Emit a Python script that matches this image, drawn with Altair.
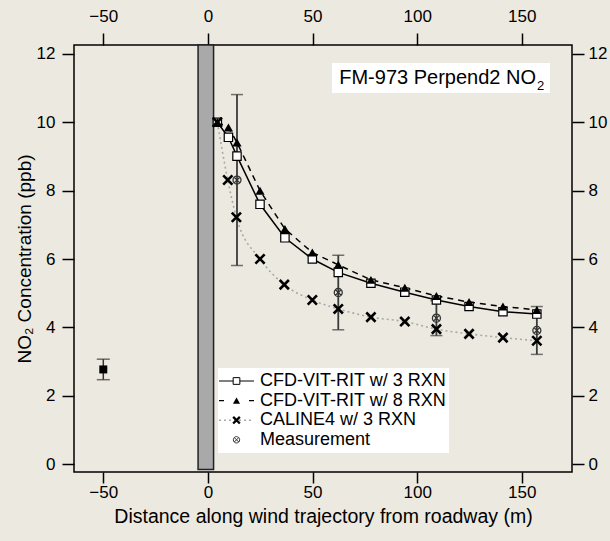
import altair as alt
import pandas as pd

# ---------------- data ----------------
dist = [4.5, 9.8, 13.9, 24.9, 36.8, 49.9, 62.3, 77.9, 94.1, 109.2, 124.8, 141.0, 157.2]
cfd_3rxn = [10.0, 9.56, 9.01, 7.60, 6.62, 6.00, 5.61, 5.29, 5.03, 4.80, 4.61, 4.46, 4.39]
cfd_8rxn = [10.0, 9.85, 9.41, 8.00, 6.88, 6.19, 5.83, 5.39, 5.16, 4.92, 4.74, 4.61, 4.51]
caline_dist = [4.5, 9.5, 13.6, 24.9, 36.5, 49.9, 62.3, 77.9, 94.1, 109.2, 124.8, 141.0, 157.2]
caline_3rxn = [10.0, 8.31, 7.22, 6.00, 5.25, 4.80, 4.54, 4.30, 4.17, 3.95, 3.81, 3.70, 3.61]
meas_dist = [13.9, 62.3, 109.2, 157.2]
meas_val = [8.31, 5.02, 4.27, 3.91]
meas_err = [2.50, 1.09, 0.51, 0.70]
bg_dist = [-50]
bg_val = [2.77]
bg_err = [0.30]
road_x = [-4.7, 2.7]
road_y = [-0.16, 12.26]
x_ticks = [-50, 0, 50, 100, 150]
y_ticks = [0, 2, 4, 6, 8, 10, 12]
x_title = "Distance along wind trajectory from roadway (m)"
y_title = "NO\u2082 Concentration (ppb)"
legend_labels = ["CFD-VIT-RIT w/ 3 RXN", "CFD-VIT-RIT w/ 8 RXN",
                 "CALINE4 w/ 3 RXN", "Measurement"]
box_text = "FM-973 Perpend2 NO"
box_sub = "2"

FONT = "Liberation Sans"
BG = "#ECEAE0"
W, H = 498, 427
PAD = {"left": 74, "top": 45, "right": 610 - 74 - W, "bottom": 541 - 45 - H}

X_SHAPE = "M-1,-1L1,1M-1,1L1,-1"
OTIMES = "M1,0A1,1,0,1,1,-1,0A1,1,0,1,1,1,0ZM-0.7,-0.7L0.7,0.7M-0.7,0.7L0.7,-0.7"

xs = alt.Scale(domain=[-64, 174], nice=False, zero=False)
ys = alt.Scale(domain=[-0.23, 12.26], nice=False, zero=False)


def X(f):
    return alt.X(f, type="quantitative", scale=xs, axis=None)


def Y(f):
    return alt.Y(f, type="quantitative", scale=ys, axis=None)


df3 = pd.DataFrame({"d": dist, "v": cfd_3rxn})
df8 = pd.DataFrame({"d": dist, "v": cfd_8rxn})
dfc = pd.DataFrame({"d": caline_dist, "v": caline_3rxn})
dfm = pd.DataFrame({"d": meas_dist, "v": meas_val, "e": meas_err})
dfm["lo"] = dfm["v"] - dfm["e"]
dfm["hi"] = dfm["v"] + dfm["e"]
dfb = pd.DataFrame({"d": bg_dist, "v": bg_val, "e": bg_err})
dfb["lo"] = dfb["v"] - dfb["e"]
dfb["hi"] = dfb["v"] + dfb["e"]
dfr = pd.DataFrame({"x0": [road_x[0]], "x1": [road_x[1]], "y0": [road_y[0]], "y1": [road_y[1]]})

road = alt.Chart(dfr).mark_rect(fill="#A9A9A9", stroke="#222222", strokeWidth=1.5).encode(
    x=X("x0"), x2="x1", y=Y("y0"), y2="y1")

line_c = alt.Chart(dfc).mark_line(color="#A8A8A8", strokeDash=[2, 3], strokeWidth=1.6,
                                  interpolate="monotone").encode(x=X("d"), y=Y("v"))
line_8 = alt.Chart(df8).mark_line(color="black", strokeDash=[6, 5], strokeWidth=1.5).encode(
    x=X("d"), y=Y("v"))
line_3 = alt.Chart(df3).mark_line(color="black", strokeWidth=1.5).encode(x=X("d"), y=Y("v"))

err_rule = alt.Chart(dfm).mark_rule(color="#3A3A3A", strokeWidth=1.8).encode(
    x=X("d"), y=Y("lo"), y2="hi")
err_lo = alt.Chart(dfm).mark_tick(color="#3A3A3A", orient="horizontal", size=12, thickness=1.5).encode(
    x=X("d"), y=Y("lo"))
err_hi = alt.Chart(dfm).mark_tick(color="#3A3A3A", orient="horizontal", size=12, thickness=1.5).encode(
    x=X("d"), y=Y("hi"))

pt_c = alt.Chart(dfc).mark_point(shape=X_SHAPE, color="black", strokeWidth=2.6, size=85, opacity=1).encode(
    x=X("d"), y=Y("v"))
pt_m = alt.Chart(dfm).mark_point(shape=OTIMES, color="#333333", strokeWidth=1.3, size=64, opacity=1).encode(
    x=X("d"), y=Y("v"))
pt_3 = alt.Chart(df3).mark_point(shape="square", filled=True, fill="white", stroke="black",
                                 strokeWidth=1.2, size=70, opacity=1).encode(x=X("d"), y=Y("v"))
pt_8 = alt.Chart(df8).mark_point(shape="triangle-up", filled=True, color="black", size=85, opacity=1).encode(
    x=X("d"), y=Y("v"))

bg_rule = alt.Chart(dfb).mark_rule(color="#333333", strokeWidth=1.5).encode(x=X("d"), y=Y("lo"), y2="hi")
bg_lo = alt.Chart(dfb).mark_tick(color="#333333", orient="horizontal", size=13, thickness=1.5).encode(
    x=X("d"), y=Y("lo"))
bg_hi = alt.Chart(dfb).mark_tick(color="#333333", orient="horizontal", size=13, thickness=1.5).encode(
    x=X("d"), y=Y("hi"))
bg_pt = alt.Chart(dfb).mark_point(shape="square", filled=True, color="black", size=64, opacity=1).encode(
    x=X("d"), y=Y("v"))

# axes: bottom/left and top/right on the same scales
ax_bl = alt.Chart(dfb).mark_point(opacity=0).encode(
    x=alt.X("d", type="quantitative", scale=xs,
            axis=alt.Axis(orient="bottom", values=x_ticks, title=x_title, titlePadding=7,
                          labelPadding=1, tickSize=11, titleFontSize=19.5)),
    y=alt.Y("v", type="quantitative", scale=ys,
            axis=alt.Axis(orient="left", values=y_ticks, title=y_title, titlePadding=2,
                          labelPadding=7)))
ax_tr = alt.Chart(dfb).mark_point(opacity=0).encode(
    x=alt.X("d", type="quantitative", scale=xs,
            axis=alt.Axis(orient="top", values=x_ticks, title="", labelPadding=8)),
    y=alt.Y("v", type="quantitative", scale=ys,
            axis=alt.Axis(orient="right", values=y_ticks, title="", labelPadding=4)))

# annotation box (top right)
one = pd.DataFrame({"k": [0]})
box_bg = alt.Chart(one).mark_rect(fill="white").encode(
    x=alt.value(258), x2=alt.value(476), y=alt.value(18), y2=alt.value(48))
box_t = alt.Chart(one).mark_text(text=box_text, font=FONT, fontSize=20, align="right",
                                 baseline="middle", color="black").encode(
    x=alt.value(462), y=alt.value(33))
box_s = alt.Chart(one).mark_text(text=box_sub, font=FONT, fontSize=13, align="left",
                                 baseline="middle", color="black").encode(
    x=alt.value(463), y=alt.value(41))

# legend (drawn by hand)
LX0, LX1 = 144, 375
LY0, LY1 = 323, 408
row_y = [336 + 19.6 * i for i in range(len(legend_labels))]
sym_x = 162.5
leg_layers = [alt.Chart(one).mark_rect(fill="white").encode(
    x=alt.value(LX0), x2=alt.value(LX1), y=alt.value(LY0), y2=alt.value(LY1))]
for i, lab in enumerate(legend_labels):
    yy = row_y[i]
    leg_layers.append(alt.Chart(one).mark_text(text=lab, font=FONT, fontSize=18, align="left",
                                               baseline="middle", color="black").encode(
        x=alt.value(186), y=alt.value(yy)))
# row 0: solid line + open square
leg_layers.append(alt.Chart(one).mark_rule(color="black", strokeWidth=1.2).encode(
    x=alt.value(145), x2=alt.value(180), y=alt.value(row_y[0])))
leg_layers.append(alt.Chart(one).mark_point(shape="square", filled=True, fill="white", stroke="black",
                                            strokeWidth=1, size=45, opacity=1).encode(
    x=alt.value(sym_x), y=alt.value(row_y[0])))
# row 1: dashes + triangle
leg_layers.append(alt.Chart(one).mark_rule(color="black", strokeWidth=1.2, strokeDash=[5, 25]).encode(
    x=alt.value(145), x2=alt.value(180), y=alt.value(row_y[1])))
leg_layers.append(alt.Chart(one).mark_point(shape="triangle-up", filled=True, color="black",
                                            size=50, opacity=1).encode(
    x=alt.value(sym_x), y=alt.value(row_y[1])))
# row 2: dotted + x
leg_layers.append(alt.Chart(one).mark_rule(color="#A8A8A8", strokeWidth=1.4, strokeDash=[2, 3]).encode(
    x=alt.value(145), x2=alt.value(180), y=alt.value(row_y[2])))
leg_layers.append(alt.Chart(one).mark_point(shape=X_SHAPE, color="black", strokeWidth=2.3,
                                            size=45, opacity=1).encode(
    x=alt.value(sym_x), y=alt.value(row_y[2])))
# row 3: measurement symbol
leg_layers.append(alt.Chart(one).mark_point(shape=OTIMES, color="#333333", strokeWidth=1,
                                            size=40, opacity=1).encode(
    x=alt.value(sym_x), y=alt.value(row_y[3])))

chart = alt.layer(
    ax_bl, ax_tr, road, line_c, line_8, line_3,
    err_rule, err_lo, err_hi, pt_m, pt_3, pt_8, pt_c,
    bg_rule, bg_lo, bg_hi, bg_pt,
    box_bg, box_t, box_s, *leg_layers
).resolve_axis(x="independent", y="independent").properties(
    width=W, height=H, padding=PAD, autosize=alt.AutoSizeParams(type="none"),
    background=BG
).configure_view(
    stroke="black", strokeWidth=1.5
).configure_axis(
    domain=False, grid=False, labelFont=FONT, labelFontSize=17, labelColor="black",
    tickColor="black", tickSize=12, tickWidth=1.5, labelPadding=5,
    titleFont=FONT, titleFontSize=19, titleFontWeight="normal", titleColor="black"
)

chart.save("out.html", embed_options={"renderer": "svg", "actions": False})
